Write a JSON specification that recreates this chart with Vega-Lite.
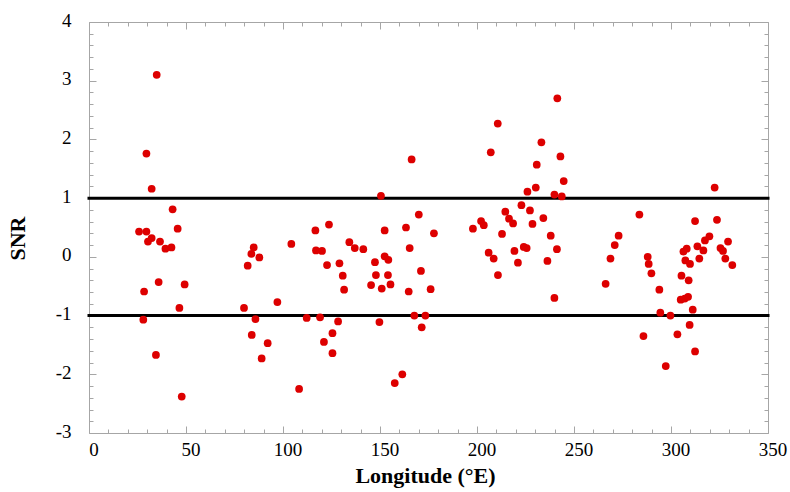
{
  "$schema": "https://vega.github.io/schema/vega-lite/v6.json",
  "width": 679,
  "height": 411,
  "autosize": {"type": "none"},
  "padding": {"left": 89, "top": 22, "right": 22, "bottom": 59},
  "background": "white",
  "config": {
    "view": {"stroke": null},
    "font": "Liberation Serif",
    "axis": {
      "domainColor": "#a6a6a6",
      "domainWidth": 1,
      "tickColor": "#a6a6a6",
      "tickWidth": 1,
      "grid": false,
      "labelFlush": false,
      "labelOverlap": false,
      "labelFont": "Liberation Serif",
      "labelFontSize": 19,
      "labelColor": "black",
      "titleFont": "Liberation Serif",
      "titleFontSize": 22,
      "titleFontWeight": "bold",
      "titleColor": "black"
    }
  },
  "datasets": {
    "pts": [
      {"lon": 25.8, "snr": 0.43}, {"lon": 29.6, "snr": 0.43}, {"lon": 34.9, "snr": 3.10}, {"lon": 29.6, "snr": 1.76},
      {"lon": 32.3, "snr": 1.16}, {"lon": 43.1, "snr": 0.81}, {"lon": 45.7, "snr": 0.48}, {"lon": 32.3, "snr": 0.32},
      {"lon": 30.4, "snr": 0.26}, {"lon": 36.6, "snr": 0.26}, {"lon": 39.4, "snr": 0.14}, {"lon": 42.5, "snr": 0.16},
      {"lon": 35.9, "snr": -0.43}, {"lon": 28.4, "snr": -0.59}, {"lon": 49.3, "snr": -0.47}, {"lon": 46.6, "snr": -0.87},
      {"lon": 28.0, "snr": -1.07}, {"lon": 34.5, "snr": -1.67}, {"lon": 47.8, "snr": -2.38},
      {"lon": 84.9, "snr": 0.16}, {"lon": 83.7, "snr": 0.05}, {"lon": 87.8, "snr": -0.01}, {"lon": 81.8, "snr": -0.15},
      {"lon": 79.9, "snr": -0.87}, {"lon": 85.8, "snr": -1.06}, {"lon": 83.9, "snr": -1.33}, {"lon": 92.1, "snr": -1.47},
      {"lon": 89.0, "snr": -1.73}, {"lon": 97.1, "snr": -0.77},
      {"lon": 104.3, "snr": 0.22}, {"lon": 108.3, "snr": -2.25}, {"lon": 112.2, "snr": -1.04}, {"lon": 119.1, "snr": -1.03},
      {"lon": 116.7, "snr": 0.45}, {"lon": 123.7, "snr": 0.55}, {"lon": 117.0, "snr": 0.11}, {"lon": 120.1, "snr": 0.10},
      {"lon": 122.7, "snr": -0.14}, {"lon": 128.4, "snr": -1.10}, {"lon": 125.5, "snr": -1.30}, {"lon": 121.1, "snr": -1.45},
      {"lon": 125.5, "snr": -1.64}, {"lon": 129.1, "snr": -0.11}, {"lon": 130.8, "snr": -0.32}, {"lon": 131.5, "snr": -0.56},
      {"lon": 134.2, "snr": 0.25}, {"lon": 137.0, "snr": 0.15}, {"lon": 141.4, "snr": 0.13}, {"lon": 147.4, "snr": -0.09},
      {"lon": 147.9, "snr": -0.31}, {"lon": 145.4, "snr": -0.48}, {"lon": 150.5, "snr": 1.04}, {"lon": 152.4, "snr": 0.45},
      {"lon": 152.4, "snr": 0.01}, {"lon": 154.3, "snr": -0.05}, {"lon": 154.1, "snr": -0.31}, {"lon": 150.9, "snr": -0.54},
      {"lon": 155.4, "snr": -0.47}, {"lon": 149.7, "snr": -1.11}, {"lon": 161.5, "snr": -2.00}, {"lon": 157.6, "snr": -2.15},
      {"lon": 166.3, "snr": 1.66}, {"lon": 163.4, "snr": 0.50}, {"lon": 170.0, "snr": 0.72}, {"lon": 177.8, "snr": 0.40},
      {"lon": 165.3, "snr": 0.15}, {"lon": 171.1, "snr": -0.24}, {"lon": 164.8, "snr": -0.59}, {"lon": 176.1, "snr": -0.55},
      {"lon": 167.7, "snr": -1.00}, {"lon": 173.4, "snr": -1.00}, {"lon": 171.5, "snr": -1.20},
      {"lon": 197.9, "snr": 0.48}, {"lon": 202.1, "snr": 0.61}, {"lon": 203.5, "snr": 0.54}, {"lon": 210.7, "snr": 2.27},
      {"lon": 207.1, "snr": 1.78}, {"lon": 206.0, "snr": 0.07}, {"lon": 208.6, "snr": -0.03}, {"lon": 210.8, "snr": -0.31},
      {"lon": 212.9, "snr": 0.39}, {"lon": 214.6, "snr": 0.77}, {"lon": 216.5, "snr": 0.65}, {"lon": 218.6, "snr": 0.57},
      {"lon": 219.3, "snr": 0.10}, {"lon": 221.1, "snr": -0.10}, {"lon": 222.9, "snr": 0.88}, {"lon": 224.1, "snr": 0.17},
      {"lon": 225.6, "snr": 0.15}, {"lon": 226.0, "snr": 1.11}, {"lon": 227.3, "snr": 0.79}, {"lon": 228.6, "snr": 0.56},
      {"lon": 230.3, "snr": 1.18}, {"lon": 230.8, "snr": 1.57}, {"lon": 233.2, "snr": 1.95}, {"lon": 234.2, "snr": 0.66},
      {"lon": 236.3, "snr": -0.07}, {"lon": 238.0, "snr": 0.36}, {"lon": 239.9, "snr": -0.70}, {"lon": 241.2, "snr": 0.13},
      {"lon": 241.4, "snr": 2.70}, {"lon": 239.9, "snr": 1.06}, {"lon": 243.7, "snr": 1.03}, {"lon": 243.0, "snr": 1.71},
      {"lon": 244.7, "snr": 1.29},
      {"lon": 266.3, "snr": -0.46}, {"lon": 268.8, "snr": -0.03}, {"lon": 271.0, "snr": 0.20}, {"lon": 273.0, "snr": 0.36},
      {"lon": 283.7, "snr": 0.72}, {"lon": 285.8, "snr": -1.35}, {"lon": 288.0, "snr": 0.00}, {"lon": 288.5, "snr": -0.12},
      {"lon": 289.9, "snr": -0.28}, {"lon": 294.0, "snr": -0.56}, {"lon": 294.5, "snr": -0.95}, {"lon": 299.7, "snr": -1.00},
      {"lon": 297.3, "snr": -1.86}, {"lon": 303.3, "snr": -1.32}, {"lon": 305.4, "snr": -0.32}, {"lon": 305.0, "snr": -0.73},
      {"lon": 307.1, "snr": -0.71}, {"lon": 308.8, "snr": -0.68}, {"lon": 309.1, "snr": -0.40}, {"lon": 306.4, "snr": 0.09},
      {"lon": 308.1, "snr": 0.14}, {"lon": 307.4, "snr": -0.06}, {"lon": 309.8, "snr": -0.12}, {"lon": 311.2, "snr": -0.90},
      {"lon": 309.6, "snr": -1.16}, {"lon": 312.4, "snr": -1.61}, {"lon": 312.4, "snr": 0.61}, {"lon": 313.6, "snr": 0.18},
      {"lon": 314.6, "snr": -0.03}, {"lon": 316.7, "snr": 0.11}, {"lon": 317.5, "snr": 0.28}, {"lon": 319.8, "snr": 0.35},
      {"lon": 322.5, "snr": 1.18}, {"lon": 323.7, "snr": 0.63}, {"lon": 325.5, "snr": 0.15}, {"lon": 326.8, "snr": 0.10},
      {"lon": 329.4, "snr": 0.26}, {"lon": 328.0, "snr": -0.03}, {"lon": 331.6, "snr": -0.14}
    ],
    "thresholds": [{"snr": 1}, {"snr": -1}]
  },
  "layer": [
    {
      "data": {"name": "pts"},
      "mark": {"type": "point", "opacity": 0},
      "encoding": {
        "x": {
          "field": "lon", "type": "quantitative",
          "scale": {"domain": [0, 350], "nice": false, "zero": false},
          "axis": {
            "orient": "top", "title": null, "labels": false,
            "values": [0,10,20,30,40,50,60,70,80,90,100,110,120,130,140,150,160,170,180,190,200,210,220,230,240,250,260,270,280,290,300,310,320,330,340,350],
            "tickSize": {"condition": {"test": "datum.value % 50 === 0", "value": -7}, "value": -4}
          }
        },
        "y": {
          "field": "snr", "type": "quantitative",
          "scale": {"domain": [-3, 4], "nice": false, "zero": false},
          "axis": {
            "orient": "right", "title": null, "labels": false,
            "values": [-3,-2.8,-2.6,-2.4,-2.2,-2,-1.8,-1.6,-1.4,-1.2,-1,-0.8,-0.6,-0.4,-0.2,0,0.2,0.4,0.6,0.8,1,1.2,1.4,1.6,1.8,2,2.2,2.4,2.6,2.8,3,3.2,3.4,3.6,3.8,4],
            "tickSize": {"condition": {"test": "abs(datum.value - round(datum.value)) < 0.01", "value": -7}, "value": -4}
          }
        }
      }
    },
    {
      "data": {"name": "thresholds"},
      "mark": {"type": "rule", "color": "black", "strokeWidth": 3, "strokeCap": "square"},
      "encoding": {
        "y": {"field": "snr", "type": "quantitative", "axis": null}
      }
    },
    {
      "data": {"name": "pts"},
      "mark": {"type": "circle", "color": "#dd0000", "opacity": 1, "size": 60},
      "encoding": {
        "x": {
          "field": "lon", "type": "quantitative",
          "axis": {
            "orient": "bottom", "title": "Longitude (°E)",
            "values": [0,10,20,30,40,50,60,70,80,90,100,110,120,130,140,150,160,170,180,190,200,210,220,230,240,250,260,270,280,290,300,310,320,330,340,350],
            "labelExpr": "datum.value % 50 === 0 ? datum.label : ''",
            "tickSize": {"condition": {"test": "datum.value % 50 === 0", "value": -7}, "value": -4},
            "labelPadding": 14,
            "labelOffset": 4.5,
            "titleX": 336,
            "titleY": 49,
            "titleBaseline": "alphabetic",
            "titleAlign": "center"
          }
        },
        "y": {
          "field": "snr", "type": "quantitative",
          "axis": {
            "orient": "left", "title": "SNR",
            "values": [-3,-2.8,-2.6,-2.4,-2.2,-2,-1.8,-1.6,-1.4,-1.2,-1,-0.8,-0.6,-0.4,-0.2,0,0.2,0.4,0.6,0.8,1,1.2,1.4,1.6,1.8,2,2.2,2.4,2.6,2.8,3,3.2,3.4,3.6,3.8,4],
            "labelExpr": "abs(datum.value - round(datum.value)) < 0.01 ? '' + round(datum.value) : ''",
            "tickSize": {"condition": {"test": "abs(datum.value - round(datum.value)) < 0.01", "value": -7}, "value": -4},
            "labelPadding": 25,
            "labelOffset": -2,
            "titleX": -72,
            "titleY": 216,
            "titleAngle": 270,
            "titleAlign": "center",
            "titleBaseline": "middle"
          }
        }
      }
    }
  ],
  "resolve": {"axis": {"x": "independent", "y": "independent"}}
}
